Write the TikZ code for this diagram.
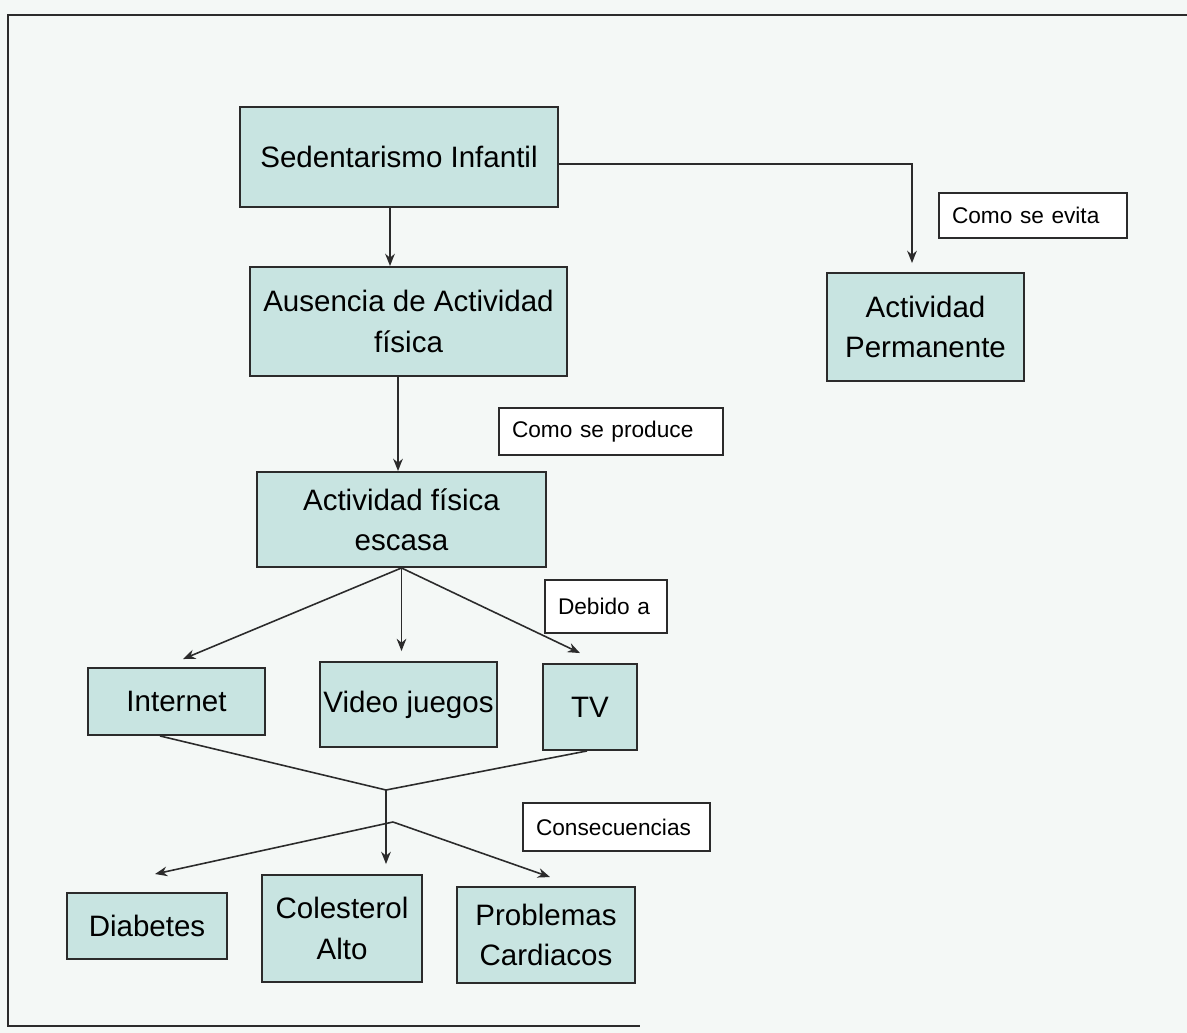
\documentclass[tikz,border=0pt]{standalone}
\usepackage{fontspec}
\setmainfont{Liberation Sans}
\usetikzlibrary{arrows.meta}
\definecolor{MapBack}{HTML}{F4F8F6}
\definecolor{MapFill}{HTML}{C8E4E1}
\definecolor{MapLine}{HTML}{2B2B2B}
\tikzset{
  concept/.style={draw=MapLine,line width=1.1pt,fill=MapFill,align=center,inner sep=0pt,
    font=\fontsize{16.8}{23}\selectfont},
  linklabel/.style={draw=MapLine,line width=0.9pt,fill=white,align=left,inner xsep=0.26cm,inner ysep=0pt,
    font=\fontsize{12.9}{15}\selectfont},
  arrowline/.style={MapLine,line width=0.9pt,-{Stealth[length=7pt,width=5.5pt]}},
  plainline/.style={MapLine,line width=0.9pt}
}
\begin{document}
\begin{tikzpicture}[x=0.02cm,y=-0.02cm]
\path[use as bounding box,fill=MapBack] (0,0) rectangle (1187,1033);
\draw[MapLine,line width=1.2pt] (1187,15) -- (8,15) -- (8,1026) -- (640,1026);
% concepts
\node[concept,minimum width=6.36cm,minimum height=2.00cm] (sed) at (399,157) {Sedentarismo Infantil};
\node[concept,minimum width=6.34cm,minimum height=2.18cm] (aus) at (408.5,321.5) {Ausencia de Actividad\\física};
\node[concept,minimum width=3.94cm,minimum height=2.16cm] (perm) at (925.5,327) {Actividad\\Permanente};
\node[concept,minimum width=5.78cm,minimum height=1.90cm] (esc) at (401.5,519.5) {Actividad física\\escasa};
\node[concept,minimum width=3.54cm,minimum height=1.34cm] (int) at (176.5,701.5) {Internet};
\node[concept,minimum width=3.54cm,minimum height=1.70cm] (vid) at (408.5,704.5) {Video juegos};
\node[concept,minimum width=1.88cm,minimum height=1.72cm] (tv) at (590,707) {TV};
\node[concept,minimum width=3.20cm,minimum height=1.32cm] (dia) at (147,926) {Diabetes};
\node[concept,minimum width=3.20cm,minimum height=2.14cm] (col) at (342,928.5) {Colesterol\\Alto};
\node[concept,minimum width=3.56cm,minimum height=1.92cm] (prob) at (546,935) {Problemas\\Cardiacos};
% link labels
\node[linklabel,text width=3.24cm,minimum height=0.90cm] (evita) at (1033,215.5) {Como se evita};
\node[linklabel,text width=3.96cm,minimum height=0.94cm] (produce) at (611,431.5) {Como se produce};
\node[linklabel,text width=1.92cm,minimum height=1.06cm] (debido) at (606,606.5) {Debido a};
\node[linklabel,text width=3.22cm,minimum height=0.96cm] (consec) at (616.5,827) {Consecuencias};
% connectors
\draw[arrowline] ([xshift=-0.18cm]sed.south) -- ([xshift=-0.18cm]sed.south |- aus.north);
\draw[arrowline] ([yshift=-0.14cm]sed.east) -| ([xshift=-0.27cm,yshift=0.18cm]perm.north);
\draw[arrowline] ([xshift=-0.21cm]aus.south) -- ([xshift=-0.21cm]aus.south |- esc.north);
\draw[arrowline] (esc.south) -- ([xshift=0.13cm,yshift=0.16cm]int.north);
\draw[arrowline] (esc.south) -- ([yshift=0.2cm]esc.south |- vid.north);
\draw[arrowline] (esc.south) -- ([xshift=-0.2cm,yshift=0.2cm]tv.north);
\coordinate (join) at (386,790);
\coordinate (fork) at (393,822);
\draw[plainline] ([xshift=-0.33cm]int.south) -- (join);
\draw[plainline] ([xshift=-0.06cm]tv.south) -- (join);
\draw[arrowline] (join) -- ([yshift=0.2cm]join |- col.north);
\draw[arrowline] (fork) -- ([xshift=0.16cm,yshift=0.36cm]dia.north);
\draw[arrowline] (fork) -- ([xshift=0.08cm,yshift=0.18cm]prob.north);
\end{tikzpicture}
\end{document}
